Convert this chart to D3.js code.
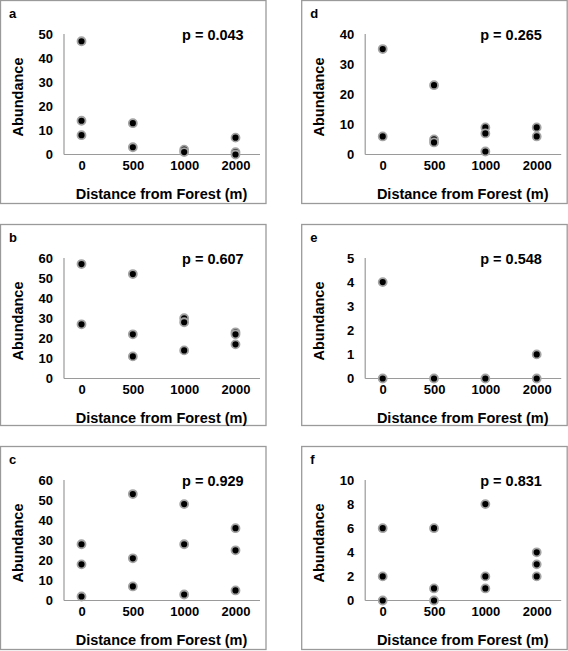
<!DOCTYPE html>
<html>
<head>
<meta charset="utf-8">
<script src="https://cdn.jsdelivr.net/npm/d3@7"></script>
<style>
  html, body { margin: 0; padding: 0; background: #fff; }
  svg { display: block; }
  text { font-family: "Liberation Sans", Arial, Helvetica, sans-serif; font-weight: bold; fill: #000; }
</style>
</head>
<body>
<svg id="chart" width="568" height="651"></svg>
<script>
// ---------- DATA ----------
const categories = ["0", "500", "1000", "2000"];
const panelLetters = ["a", "b", "c", "d", "e", "f"];
const pValues = ["0.043", "0.607", "0.929", "0.265", "0.548", "0.831"];
const xTitle = "Distance from Forest (m)";
const yTitle = "Abundance";

// abundance values per distance category (0, 500, 1000, 2000)
const valuesA = [[47, 14, 8], [13, 3], [2, 1], [7, 1, 0]];
const valuesB = [[57, 27], [52, 22, 11], [30, 28, 14], [23, 22, 17]];
const valuesC = [[28, 18, 2], [53, 21, 7], [48, 28, 3], [36, 25, 5]];
const valuesD = [[35, 6], [23, 5, 4], [9, 7, 1], [9, 6]];
const valuesE = [[4, 0], [0], [0], [1, 0]];
const valuesF = [[6, 2, 0], [6, 1, 0], [8, 2, 1], [4, 3, 2]];

const yTicksA = [0, 10, 20, 30, 40, 50];
const yTicksB = [0, 10, 20, 30, 40, 50, 60];
const yTicksC = [0, 10, 20, 30, 40, 50, 60];
const yTicksD = [0, 10, 20, 30, 40];
const yTicksE = [0, 1, 2, 3, 4, 5];
const yTicksF = [0, 2, 4, 6, 8, 10];

const panelValues = [valuesA, valuesB, valuesC, valuesD, valuesE, valuesF];
const panelTicks = [yTicksA, yTicksB, yTicksC, yTicksD, yTicksE, yTicksF];

// ---------- LAYOUT ----------
const colLeft = [0.5, 301.7];
const rowTop = [0.5, 224.5, 446.5];
const rowHeight = [203, 201, 203];
const boxW = 265.5;

const svg = d3.select("#chart");
const gray = "#9a9a9a";

panelLetters.forEach((letter, i) => {
  const col = Math.floor(i / 3), row = i % 3;
  const g = svg.append("g").attr("transform", `translate(${colLeft[col]},${rowTop[row]})`);
  const vals = panelValues[i];
  const ticks = panelTicks[i];

  g.append("rect")
    .attr("x", 0).attr("y", 0)
    .attr("width", boxW).attr("height", rowHeight[row])
    .attr("fill", "none").attr("stroke", gray).attr("stroke-width", 1.3);

  const axisLeft = 63.5, axisRight = 259.5, axisBottom = 154, axisTop = 33.5;

  const x = d3.scalePoint().domain(categories).range([80, 234]);
  const y = d3.scaleLinear().domain([0, d3.max(ticks)]).range([axisBottom, axisTop]);

  // y axis
  const yAxis = g.append("g").attr("transform", `translate(${axisLeft},0)`)
    .call(d3.axisLeft(y).tickValues(ticks).tickSize(0).tickPadding(11).tickFormat(d3.format("d")));
  yAxis.select(".domain").attr("stroke", gray).attr("stroke-width", 1.2).attr("d", `M0,${axisTop}V${axisBottom}`);
  yAxis.selectAll("text").style("font-size", "13px").attr("fill", "#000");

  // x axis
  const xAxis = g.append("g").attr("transform", `translate(0,${axisBottom})`)
    .call(d3.axisBottom(x).tickSize(0).tickPadding(6));
  xAxis.select(".domain").attr("stroke", gray).attr("stroke-width", 1.2).attr("d", `M${axisLeft},0H${axisRight}`);
  xAxis.selectAll("text").style("font-size", "13px").attr("fill", "#000").attr("dx", "1");

  // points
  const pts = [];
  vals.forEach((arr, ci) => arr.forEach(v => pts.push({ c: categories[ci], v })));
  g.append("g").selectAll("circle").data(pts).join("circle")
    .attr("cx", d => x(d.c) + 1)
    .attr("cy", d => y(d.v))
    .attr("r", 4)
    .attr("fill", "#000")
    .attr("stroke", "#a3a3a3")
    .attr("stroke-width", 1.8);

  // panel letter
  g.append("text").attr("x", 8.5).attr("y", 17).style("font-size", "13px").text(letter);

  // p value
  g.append("text").attr("x", col === 0 ? 181.5 : 178.5).attr("y", 39.5)
    .style("font-size", "14.5px").text("p = " + pValues[i]);

  // axis titles
  g.append("text").attr("x", 161).attr("y", 198).attr("text-anchor", "middle")
    .style("font-size", "14.5px").text(xTitle);
  g.append("text").attr("transform", `translate(22.5,${96.5}) rotate(-90)`)
    .attr("text-anchor", "middle").style("font-size", "14.5px").text(yTitle);
});
</script>
</body>
</html>
